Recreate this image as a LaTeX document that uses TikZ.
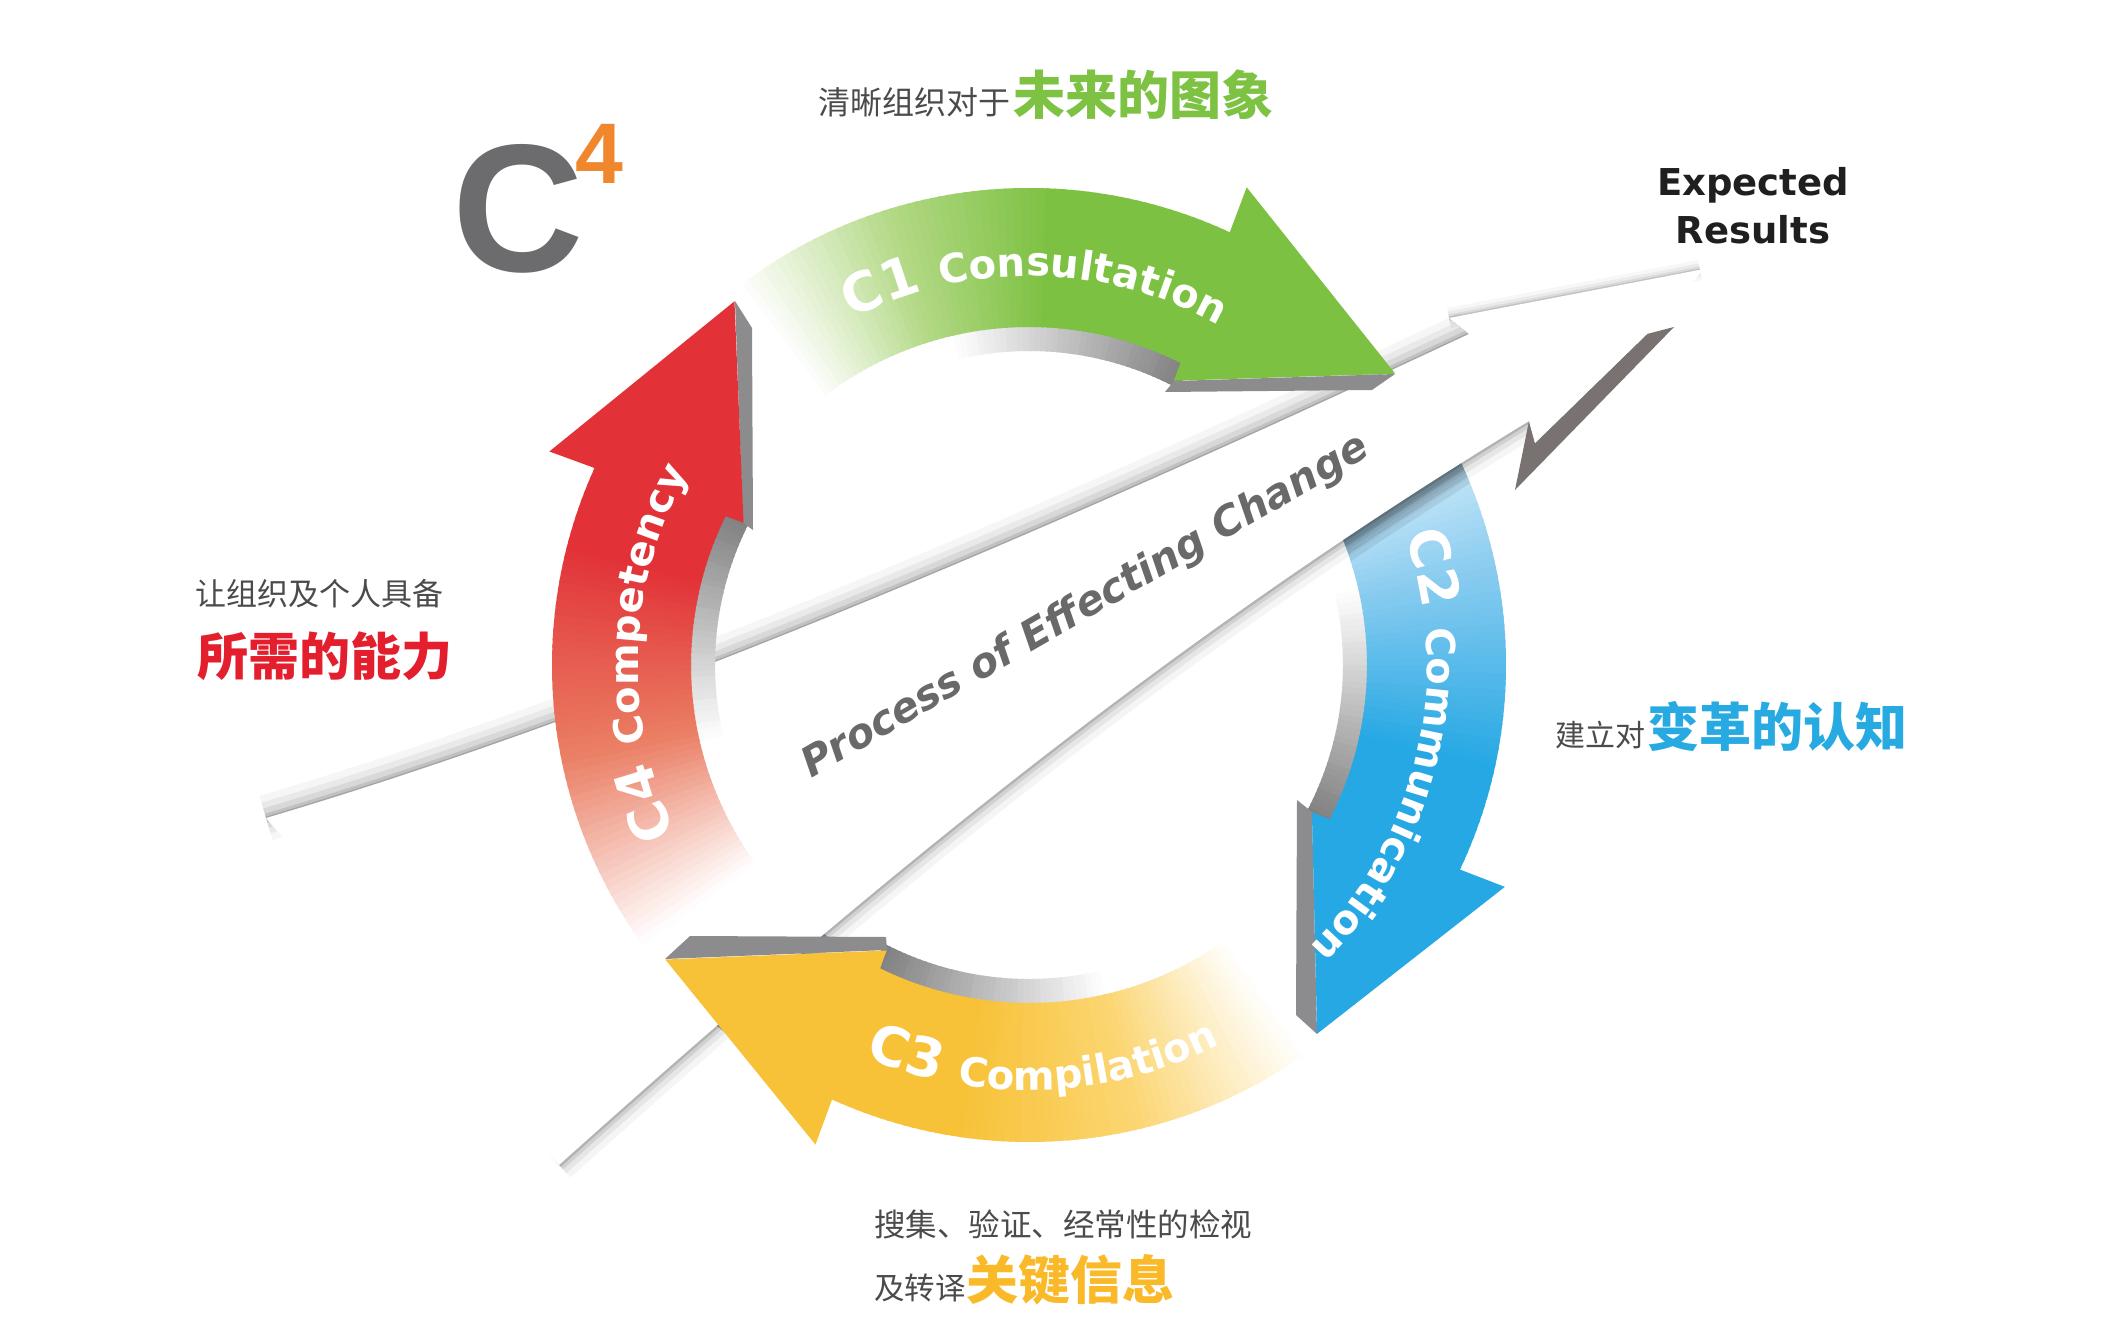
\documentclass[tikz,border=0pt]{standalone}
\usepackage{fontspec}
\usetikzlibrary{decorations.text}
\setmainfont{Liberation Sans}
\newfontfamily\labfont{DejaVu Sans}
\newfontfamily\cjk{Noto Sans CJK SC}
\definecolor{cgreen}{RGB}{125,193,66}
\definecolor{mgreen}{RGB}{180,217,135}
\definecolor{cblue}{RGB}{38,168,228}
\definecolor{mblue}{RGB}{140,205,240}
\definecolor{cyellow}{RGB}{248,194,56}
\definecolor{myellow}{RGB}{251,214,115}
\definecolor{cred}{RGB}{226,50,56}
\definecolor{mred}{RGB}{234,125,98}
\definecolor{sidegray}{RGB}{140,140,142}
\definecolor{tipdark}{RGB}{120,114,112}
\definecolor{slate}{RGB}{60,80,92}
\definecolor{txtgray}{RGB}{75,75,75}
\definecolor{procgray}{RGB}{105,105,105}
\definecolor{logogray}{RGB}{108,108,110}
\definecolor{logoorange}{RGB}{240,135,45}
\definecolor{zhgreen}{RGB}{125,194,66}
\definecolor{zhred}{RGB}{227,30,45}
\definecolor{zhblue}{RGB}{39,170,225}
\definecolor{zhyellow}{RGB}{250,185,40}
\newcommand\labC{\fontsize{54}{60}\labfont\bfseries}
\newcommand\labW{\fontsize{40}{48}\labfont\bfseries}
% ring body: #1 start angle, #2 end angle, #3 angle of full colour, #4 full, #5 mid
\newcommand\ringbody[5]{%
  \foreach \a in {#1,...,#2}{%
    \pgfmathtruncatemacro\p{max(0,min(100,100*(\a-(#1))/((#3)-(#1))))}%
    \ifnum\p<50\relax
      \pgfmathtruncatemacro\q{2*\p}\colorlet{slc}{#5!\q!white}%
    \else
      \pgfmathtruncatemacro\q{2*\p-100}\colorlet{slc}{#4!\q!#5}%
    \fi
    \fill[slc] ({\a}:338) arc[start angle=\a, end angle=\a+1.4, radius=338]
      -- ({\a+1.4}:477) arc[start angle=\a+1.4, end angle=\a, radius=477] -- cycle;
  }}
% inner wall shading: #1 start, #2 end
\newcommand\ringwall[2]{%
  \foreach \a in {#1,...,#2}{%
    \pgfmathtruncatemacro\p{50*(\a-(#1))/((#2)-(#1))}%
    \fill[black!\p!white] ({\a}:314) arc[start angle=\a, end angle=\a+1.4, radius=314]
      -- ({\a+1.4}:340) arc[start angle=\a+1.4, end angle=\a, radius=340] -- cycle;
  }}
% arrow head: #1 base angle, #2 colour
\newcommand\ringhead[2]{%
  \fill[#2] ({#1+1.5}:319) -- ({#1+26}:468) -- ({#1-1}:525) -- cycle;}
\tikzset{arclabel/.style={decorate, decoration={text along path, text align=center, text color=white, text={#1}}}}
\begin{document}
\begin{tikzpicture}[x=1pt,y=-1pt]
\fill[white] (0,0) rectangle (2126,1340);
\useasboundingbox (0,0) rectangle (2126,1340);
\coordinate (O) at (1029,665);

% ---------------- C2 (blue) ----------------
\begin{scope}[shift={(O)}]
  \ringwall{-14}{27}
  \ringbody{-38}{27}{12}{cblue}{mblue}
\end{scope}
\fill[sidegray] (1312,812) -- (1297,800) -- (1296,1015) -- (1317,1034) -- cycle;
\begin{scope}[shift={(O)}]\ringhead{26}{cblue}\end{scope}

% ---------------- big white arrow ----------------
% dark band cast on the blue ring just under the shaft
\begin{scope}[even odd rule]
  \clip (O) circle[radius=477] (O) circle[radius=338];
  \foreach \w/\o in {44/0.12,30/0.16,16/0.22}{
    \draw[slate, line width=\w, opacity=\o]
      (1529,421) .. controls (1186,630) and (900,859) .. (559,1165);
  }
\end{scope}
\foreach \w/\o in {34/0.04,22/0.06,12/0.09,5/0.14}{
  \draw[black, line width=\w, opacity=\o]
    (1529,421) .. controls (1186,630) and (900,859) .. (559,1165);
  \draw[black, line width=\w*0.6, opacity=\o*0.8]
    (1449,318) -- (1700,270);
}
\foreach \w/\o in {46/0.035,32/0.05,20/0.07,9/0.10,3/0.14}{
  \draw[black, line width=\w, opacity=\o]
    (266,818) .. controls (700,690) and (1200,460) .. (1469,334);
}
\fill[sidegray] (1449,318) -- (1482,331) -- (1474,344) -- (1469,334) -- cycle;
\fill[tipdark] (1647,334) -- (1674,327) -- (1515,490) -- (1529,421) -- (1535,443) -- cycle;
\fill[white] (1704,269) -- (1647,334) -- (1535,443) -- (1529,421)
  .. controls (1186,630) and (900,859) .. (559,1165) -- (266,818)
  .. controls (700,690) and (1200,460) .. (1469,334) -- (1449,318) -- cycle;
\node[rotate=30, text=procgray, font=\fontsize{41}{48}\labfont\bfseries\itshape]
  (proc) at (1086,607) {Process of Effecting Change};

% ---------------- C3 (yellow) ----------------
\begin{scope}[shift={(O)}]
  \ringwall{76}{116}
  \ringbody{54}{116}{98}{cyellow}{myellow}
\end{scope}
\fill[sidegray] (665,959) -- (690,936) -- (886,937) -- (887,950) -- cycle;
\begin{scope}[shift={(O)}]\ringhead{115}{cyellow}\end{scope}

% ---------------- C1 (green) ----------------
\begin{scope}[shift={(O)}]
  \ringwall{-104}{-63}
  \ringbody{-128}{-63}{-88}{cgreen}{mgreen}
\end{scope}
\fill[sidegray] (1174,381) -- (1395,374) -- (1372,390) -- (1165,392) -- cycle;
\begin{scope}[shift={(O)}]\ringhead{-64.5}{cgreen}\end{scope}

% ---------------- C4 (red) ----------------
\begin{scope}[shift={(O)}]
  \ringwall{166}{206}
  \ringbody{143}{206}{194}{cred}{mred}
\end{scope}
\fill[sidegray] (735,301) -- (752,328) -- (753,530) -- (743,523) -- cycle;
\begin{scope}[shift={(O)}]\ringhead{205}{cred}\end{scope}

% ---------------- arrow labels ----------------
\begin{scope}[shift={(O)}]
  \path[arclabel={|\labC|C1 |\labW|Consultation}] (-127:389) arc[start angle=-127, end angle=-51, radius=389];
  \path[arclabel={|\labC|C2 |\labW|Communication}] (-27:398) arc[start angle=-27, end angle=53, radius=398];
  \path[arclabel={|\labC|C3 |\labW|Compilation}] (128:425) arc[start angle=128, end angle=48, radius=425];
  \path[arclabel={|\labC|C4 |\labW|Competency}] (142:391) arc[start angle=142, end angle=222, radius=391];
\end{scope}

% ---------------- logo ----------------
\node[anchor=base west, inner sep=0, text=logogray, font=\fontsize{182}{182}\selectfont\bfseries] (logoC) at (452,272) {C};
\node[anchor=base west, inner sep=0, text=logoorange, font=\fontsize{86}{86}\selectfont\bfseries] (logo4) at (575,184) {4};

% ---------------- Expected Results ----------------
\node[align=center, text=black!88, font=\fontsize{37}{48}\labfont\bfseries] (exp) at (1753,206) {Expected\\Results};

% ---------------- Chinese captions ----------------
\node[anchor=base west, inner sep=0] (top1) at (818,115) {\cjk\fontsize{32}{32}\selectfont\color{txtgray}清晰组织对于};
\node[anchor=base west, inner sep=0] (top2) at (1013,115) {\cjk\bfseries\fontsize{52}{52}\selectfont\color{zhgreen}未来的图象};
\node[anchor=base west, inner sep=0] (left1) at (195,605) {\cjk\fontsize{31}{31}\selectfont\color{txtgray}让组织及个人具备};
\node[anchor=base west, inner sep=0] (left2) at (197,675) {\cjk\bfseries\fontsize{51}{51}\selectfont\color{zhred}所需的能力};
\node[anchor=base west, inner sep=0] (right1) at (1555,746) {\cjk\fontsize{30}{30}\selectfont\color{txtgray}建立对};
\node[anchor=base west, inner sep=0] (right2) at (1647,746) {\cjk\bfseries\fontsize{52}{52}\selectfont\color{zhblue}变革的认知};
\node[anchor=base west, inner sep=0] (bot1) at (874,1236) {\cjk\fontsize{31.5}{31.5}\selectfont\color{txtgray}搜集、验证、经常性的检视};
\node[anchor=base west, inner sep=0] (bot2) at (874,1299) {\cjk\fontsize{30.5}{30.5}\selectfont\color{txtgray}及转译};
\node[anchor=base west, inner sep=0] (bot3) at (966,1299) {\cjk\bfseries\fontsize{52}{52}\selectfont\color{zhyellow}关键信息};
\end{tikzpicture}
\end{document}
